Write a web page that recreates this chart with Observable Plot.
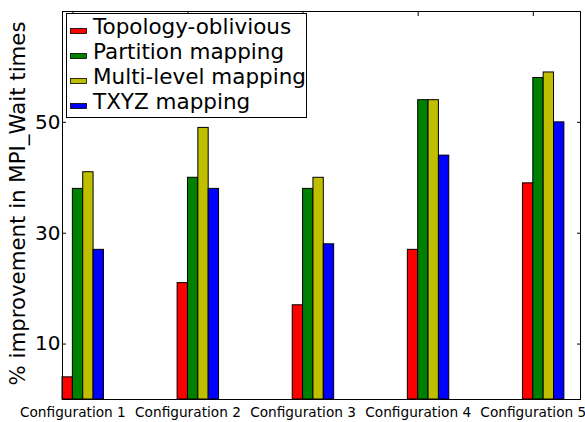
<!DOCTYPE html>
<html>
<head>
<meta charset="utf-8">
<script src="https://cdn.jsdelivr.net/npm/d3@7"></script>
<script src="https://cdn.jsdelivr.net/npm/@observablehq/plot@0.6"></script>
<style>
  body { margin: 0; background: #fff; }
  #chart svg { display: block; }
</style>
</head>
<body>
<div id="chart"></div>
<script>
// Categories, series and values
const configs = ["Configuration 1", "Configuration 2", "Configuration 3", "Configuration 4", "Configuration 5"];
const series = ["Topology-oblivious", "Partition mapping", "Multi-level mapping", "TXYZ mapping"];
const colors = ["#ff0000", "#008000", "#bfbf00", "#0000ff"];
const topology = [4, 21, 17, 27, 39];
const partition = [38, 40, 38, 54, 58];
const multiLevel = [41, 49, 40, 54, 59];
const txyz = [27, 38, 28, 44, 50];
const yTicks = [10, 30, 50];

// Grouped bar layout: four bars per configuration, group i starts at x = i
const barWidth = 0.09;
const values = [topology, partition, multiLevel, txyz];
const bars = configs.flatMap((c, i) =>
  values.map((v, k) => ({
    config: c,
    series: series[k],
    x1: i + k * barWidth,
    x2: i + (k + 1) * barWidth,
    value: v[i]
  }))
);
const tickPos = configs.map((c, i) => i + barWidth);

const font = "'DejaVu Sans', sans-serif";

const chart = Plot.plot({
  width: 585,
  height: 422,
  marginLeft: 62,
  marginRight: 5,
  marginTop: 11,
  marginBottom: 23,
  style: { fontFamily: font, background: "white", color: "black" },
  x: { domain: [0, 4.5] },
  y: { domain: [0, 70] },
  color: { domain: series, range: colors },
  marks: [
    Plot.rect(bars, { x1: "x1", x2: "x2", y1: 0, y2: "value", fill: "series", stroke: "black", strokeWidth: 1 }),
    Plot.frame({ stroke: "black", strokeWidth: 1 }),
    Plot.axisY({ ticks: yTicks, tickSize: -4, tickPadding: 6, fontSize: 20, label: null }),
    Plot.axisY({ anchor: "right", ticks: yTicks, tickSize: -4, tickFormat: () => "", label: null }),
    Plot.axisX({ anchor: "top", ticks: tickPos, tickSize: -4, tickFormat: () => "", label: null }),
    Plot.axisX({
      ticks: tickPos,
      tickSize: 0,
      tickPadding: 8,
      fontSize: 13.7,
      tickFormat: d => configs[Math.round(d - barWidth)],
      label: null
    }),
    Plot.text(["% improvement in MPI_Wait times"], {
      frameAnchor: "left",
      textAnchor: "middle",
      rotate: -90,
      dx: -44,
      dy: -2,
      fontSize: 21.3
    })
  ]
});

// Legend box in the upper-left corner of the plot area
const svg = d3.select(chart);
const lg = svg.append("g")
  .attr("font-family", font)
  .attr("font-size", 21.5)
  .attr("text-anchor", "start")
  .attr("fill", "black");
lg.append("rect")
  .attr("x", 66.5).attr("y", 13.5)
  .attr("width", 240).attr("height", 104)
  .attr("fill", "white").attr("stroke", "black").attr("stroke-width", 1);
series.forEach((s, k) => {
  const base = 34 + k * 25;
  lg.append("rect")
    .attr("x", 70.5).attr("y", base - 5.5)
    .attr("width", 16).attr("height", 5)
    .attr("fill", colors[k]).attr("stroke", "black").attr("stroke-width", 0.8);
  lg.append("text").attr("x", 93).attr("y", base).text(s);
});

document.getElementById("chart").append(chart);
</script>
</body>
</html>
